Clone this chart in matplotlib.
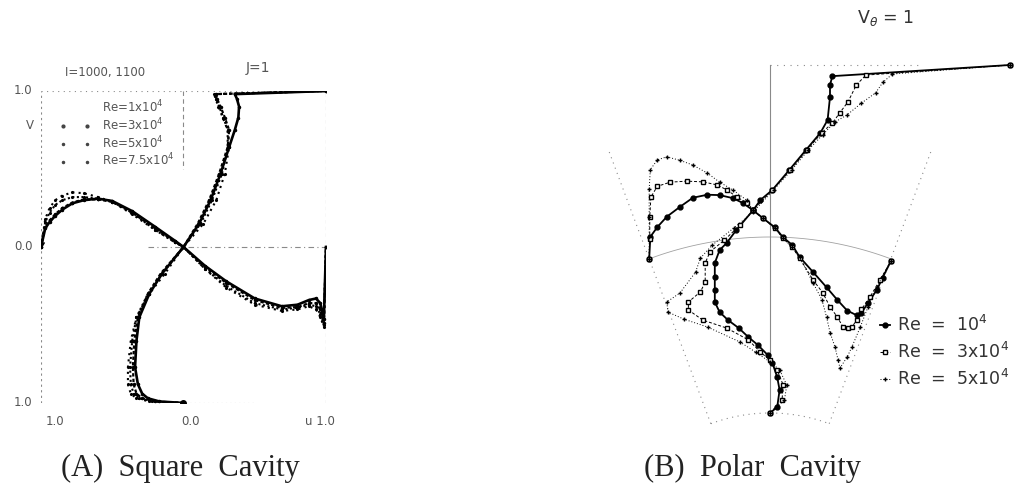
import numpy as np
import matplotlib.pyplot as plt
from matplotlib.lines import Line2D

# ---------------- (A) square cavity : centre-line profiles ----------------
labels_a = ["Re=1x10$^4$", "Re=3x10$^4$", "Re=5x10$^4$", "Re=7.5x10$^4$"]

# u along the vertical centre line (y from bottom wall to lid)
y_line = [-1.0, -0.99, -0.97, -0.94, -0.88, -0.77, -0.6, -0.45, -0.3, -0.17, 0.0,
          0.15, 0.3, 0.47, 0.64, 0.75, 0.83, 0.9, 0.95, 0.98, 1.0]
u_re1 = [0, -0.17, -0.25, -0.29, -0.32, -0.34, -0.33, -0.31, -0.24, -0.15, 0.0,
         0.11, 0.19, 0.26, 0.32, 0.36, 0.385, 0.39, 0.375, 0.36, 1.0]
u_re3 = [0, -0.20, -0.29, -0.33, -0.35, -0.355, -0.345, -0.32, -0.25, -0.16, 0.0,
         0.10, 0.18, 0.25, 0.31, 0.32, 0.29, 0.26, 0.235, 0.23, 1.0]
u_re5 = [0, -0.22, -0.31, -0.35, -0.37, -0.375, -0.36, -0.33, -0.25, -0.15, 0.0,
         0.12, 0.20, 0.27, 0.31, 0.31, 0.28, 0.25, 0.23, 0.22, 1.0]
u_re75 = [0, -0.24, -0.33, -0.37, -0.39, -0.39, -0.37, -0.33, -0.24, -0.13, 0.0,
          0.14, 0.23, 0.29, 0.32, 0.31, 0.275, 0.245, 0.225, 0.215, 1.0]

# v along the horizontal centre line
x_line = [-1.0, -0.97, -0.94, -0.9, -0.85, -0.78, -0.7, -0.6, -0.5, -0.36, -0.2, -0.06, 0.0,
          0.15, 0.3, 0.5, 0.69, 0.8, 0.88, 0.93, 0.96, 0.985, 1.0]
v_re1 = [0, 0.12, 0.16, 0.20, 0.24, 0.28, 0.30, 0.31, 0.295, 0.23, 0.13, 0.04, 0,
         -0.12, -0.22, -0.33, -0.38, -0.37, -0.34, -0.33, -0.36, -0.46, 0]
v_re3 = [0, 0.13, 0.17, 0.21, 0.25, 0.285, 0.305, 0.305, 0.29, 0.22, 0.12, 0.035, 0,
         -0.13, -0.23, -0.34, -0.39, -0.385, -0.36, -0.36, -0.40, -0.49, 0]
v_re5 = [0, 0.16, 0.22, 0.27, 0.30, 0.32, 0.32, 0.31, 0.29, 0.22, 0.11, 0.03, 0,
         -0.14, -0.25, -0.36, -0.40, -0.39, -0.37, -0.38, -0.43, -0.50, 0]
v_re75 = [0, 0.18, 0.25, 0.30, 0.33, 0.35, 0.345, 0.32, 0.29, 0.21, 0.11, 0.03, 0,
          -0.14, -0.26, -0.37, -0.41, -0.40, -0.38, -0.40, -0.45, -0.51, 0]

# ---------------- (B) polar cavity ----------------
labels_b = ["Re  =  10$^4$", "Re  =  3x10$^4$", "Re  =  5x10$^4$"]

# u along the radial centre line, eta = 0 inner wall .. 1 lid
eta_b1 = [0, 0.017, 0.066, 0.103, 0.144, 0.167, 0.195, 0.218, 0.244, 0.267, 0.29, 0.319, 0.353,
          0.391, 0.431, 0.468, 0.489, 0.526, 0.583, 0.612, 0.641, 0.698, 0.756, 0.805, 0.842,
          0.908, 0.943, 0.968, 1.0]
ub_re1 = [0, 0.03, 0.04, 0.03, 0.01, -0.01, -0.05, -0.09, -0.13, -0.175, -0.21, -0.23, -0.23,
          -0.23, -0.23, -0.21, -0.18, -0.14, -0.07, -0.04, 0.01, 0.08, 0.15, 0.21, 0.24,
          0.25, 0.25, 0.26, 1.0]
eta_b3 = [0, 0.037, 0.08, 0.124, 0.152, 0.175, 0.21, 0.244, 0.267, 0.296, 0.319, 0.348, 0.376,
          0.431, 0.463, 0.497, 0.54, 0.583, 0.641, 0.698, 0.756, 0.805, 0.833, 0.862, 0.894,
          0.943, 0.971, 1.0]
ub_re3 = [0, 0.05, 0.055, 0.03, 0, -0.04, -0.09, -0.18, -0.28, -0.34, -0.34, -0.29, -0.27,
          -0.27, -0.25, -0.19, -0.125, -0.07, 0.01, 0.085, 0.155, 0.215, 0.26, 0.29, 0.325,
          0.36, 0.40, 1.0]
eta_b5 = [0, 0.037, 0.08, 0.124, 0.147, 0.175, 0.204, 0.247, 0.27, 0.29, 0.319, 0.345, 0.405,
          0.445, 0.483, 0.532, 0.578, 0.641, 0.698, 0.756, 0.8, 0.836, 0.856, 0.89, 0.92,
          0.95, 0.974, 1.0]
ub_re5 = [0, 0.06, 0.07, 0.04, 0, -0.06, -0.125, -0.26, -0.36, -0.425, -0.43, -0.375, -0.31,
          -0.29, -0.24, -0.15, -0.07, 0.015, 0.09, 0.16, 0.22, 0.27, 0.32, 0.38, 0.44,
          0.47, 0.51, 1.0]

# v along the middle arc, s = -1 left wall .. 1 right wall
s_b1 = [-1.0, -0.99, -0.93, -0.85, -0.74, -0.63, -0.51, -0.41, -0.30, -0.22, -0.14, -0.06, 0.04,
        0.105, 0.18, 0.24, 0.35, 0.46, 0.55, 0.63, 0.71, 0.75, 0.805, 0.88, 0.93, 1.0]
vb_re1 = [0.0, 0.09, 0.12, 0.15, 0.175, 0.20, 0.20, 0.19, 0.17, 0.146, 0.114, 0.08, 0.04,
          0.0, -0.03, -0.078, -0.135, -0.19, -0.235, -0.27, -0.28, -0.265, -0.215, -0.15, -0.09, -0.01]
s_b3 = [-1.0, -0.995, -0.995, -0.985, -0.93, -0.82, -0.68, -0.546, -0.43, -0.349, -0.268, -0.187,
        -0.14, -0.06, 0.04, 0.105, 0.18, 0.24, 0.35, 0.43, 0.489, 0.55, 0.596, 0.637, 0.67, 0.71,
        0.75, 0.82, 0.907, 1.0]
vb_re3 = [0.0, 0.08, 0.175, 0.255, 0.29, 0.29, 0.275, 0.257, 0.234, 0.207, 0.173, 0.145,
          0.114, 0.08, 0.037, -0.003, -0.04, -0.082, -0.168, -0.216, -0.27, -0.306, -0.343,
          -0.342, -0.334, -0.30, -0.25, -0.19, -0.104, -0.01]
s_b5 = [-1.0, -1.0, -1.0, -1.0, -0.99, -0.93, -0.85, -0.74, -0.63, -0.51, -0.41, -0.30, -0.19,
        -0.14, -0.06, 0.04, 0.105, 0.18, 0.24, 0.35, 0.423, 0.46, 0.49, 0.53, 0.555, 0.571, 0.63,
        0.67, 0.74, 0.805, 0.88, 1.0]
vb_re5 = [0.0, 0.09, 0.175, 0.29, 0.37, 0.40, 0.40, 0.37, 0.336, 0.29, 0.244, 0.204, 0.157,
          0.114, 0.08, 0.037, -0.003, -0.04, -0.08, -0.18, -0.246, -0.314, -0.378, -0.433,
          -0.484, -0.516, -0.464, -0.417, -0.325, -0.2325, -0.1375, -0.01]

# polar cavity geometry (units of 100 px), velocity scale
R_IN, R_MID, R_OUT = 1.69, 3.45, 5.17
HALF = np.radians(20.5)
U_SCALE = 2.4

grey = "#8a8a8a"
txt = "#555555"

fig = plt.figure(figsize=(10.31, 4.90), dpi=100)

# ======================= panel A =======================
axA = fig.add_axes([41 / 1031, 1 - 403 / 490, 285 / 1031, 312 / 490])
axA.set_xlim(-1, 1)
axA.set_ylim(-1, 1)
axA.axis("off")

# dotted frame and centre lines
axA.plot([-1, -1], [-1, 1], ls=(0, (2, 3)), color=grey, lw=0.8)
axA.plot([-1, 1], [1, 1], ls=(0, (1, 4)), color=grey, lw=0.8)
axA.plot([1, 1], [-1, 1], ls=(0, (3, 3)), color=grey, lw=0.8)
axA.plot([-0.3, 0.5], [-1, -1], ls=(0, (1, 3)), color=grey, lw=0.8)
axA.plot([0.0, 0.0], [1, 0.5], ls=(0, (4, 3)), color=grey, lw=0.8)
axA.plot([-0.25, 1], [0, 0], ls=(0, (5, 3, 1, 3)), color=grey, lw=0.8)

styles = [dict(ls="-", lw=1.9, marker=".", ms=3),
          dict(ls=(0, (1.5, 1)), lw=1.6, marker=".", ms=3),
          dict(ls=(0, (1, 1.2)), lw=1.5, marker=".", ms=2.5),
          dict(ls=(0, (1, 2)), lw=1.5, marker=".", ms=2.5)]
u_all = [u_re1, u_re3, u_re5, u_re75]
v_all = [v_re1, v_re3, v_re5, v_re75]
for u, v, st in zip(u_all, v_all, styles):
    axA.plot(u, y_line, color="black", **st)
    axA.plot(x_line, v, color="black", **st)

axA.plot([0.0], [-1.0], "o", color="black", ms=4)
axA.plot([-1.0], [0.0], marker=7, color="black", ms=5)

# legend keys as in the original: first row bare, others two dots
handles = [Line2D([], [], ls="none", marker=".", ms=0, color="black")]
for ms in (4, 3, 3):
    handles.append(Line2D([], [], ls="none", marker=".", ms=ms, color="#444444"))
legA = axA.legend(handles, labels_a, loc="upper left", bbox_to_anchor=(0.065, 0.975),
                  frameon=False, fontsize=8.5, labelspacing=0.1, handlelength=2.6,
                  handletextpad=1.0, borderpad=0, borderaxespad=0, numpoints=2)
for t in legA.get_texts():
    t.set_color(txt)

kw = dict(fontsize=8.5, color=txt, clip_on=False)
axA.text(-1.06, 1.0, "1.0", ha="right", va="center", **kw)
axA.text(-1.06, 0.0, "0.0", ha="right", va="center", **kw)
axA.text(-1.06, -1.0, "1.0", ha="right", va="center", **kw)
axA.text(-0.9, -1.12, "1.0", ha="center", va="center", **kw)
axA.text(0.05, -1.12, "0.0", ha="center", va="center", **kw)
axA.text(0.96, -1.12, "u 1.0", ha="center", va="center", **kw)
axA.text(-1.05, 0.78, "V", ha="right", va="center", **kw)
axA.text(-0.55, 1.12, "I=1000, 1100", ha="center", va="center", **kw)
axA.text(0.52, 1.15, "J=1", ha="center", va="center", fontsize=10, color=txt, clip_on=False)

# ======================= panel B =======================
axB = fig.add_axes([580 / 1031, 1 - 440 / 490, 451 / 1031, 440 / 490])
axB.set_xlim(-1.90, 2.61)
axB.set_ylim(-0.27, 4.13)
axB.axis("off")

th = np.linspace(-HALF, HALF, 80)
# sector outline: inner arc, side walls, middle arc
axB.plot(R_IN * np.sin(th), R_IN * np.cos(th) - R_IN, ls=(0, (1, 4)), color=grey, lw=0.8)
for sgn in (-1, 1):
    rr = np.array([R_IN, 4.6])
    axB.plot(sgn * rr * np.sin(HALF), rr * np.cos(HALF) - R_IN, ls=(0, (1, 4)), color=grey, lw=0.8)
axB.plot(R_MID * np.sin(th), R_MID * np.cos(th) - R_IN, ls="-", color=grey, lw=0.6, alpha=0.8)
axB.plot([0, 0], [0, R_OUT - R_IN], color=grey, lw=0.8)
axB.plot([0, 1.5], [R_OUT - R_IN, R_OUT - R_IN], ls=(0, (1, 5)), color=grey, lw=0.8)

eta_all = [eta_b1, eta_b3, eta_b5]
ub_all = [ub_re1, ub_re3, ub_re5]
s_all = [s_b1, s_b3, s_b5]
vb_all = [vb_re1, vb_re3, vb_re5]
bstyles = [dict(ls="-", lw=1.3, marker="o", ms=3.5, mfc="black"),
           dict(ls=(0, (3, 2)), lw=0.7, marker="s", ms=3.5, mfc="white"),
           dict(ls=(0, (1, 2)), lw=0.7, marker="+", ms=3.5, mfc="none")]
bh = []
for eta, u, s, v, st, lab in zip(eta_all, ub_all, s_all, vb_all, bstyles, labels_b):
    eta = np.asarray(eta)
    u = np.asarray(u)
    h, = axB.plot(u * U_SCALE, eta * (R_OUT - R_IN), color="black", mec="black", label=lab, **st)
    ang = HALF * np.asarray(s)
    xs = R_MID * np.sin(ang)
    ys = R_MID * np.cos(ang) - R_IN + np.asarray(v) * U_SCALE
    axB.plot(xs, ys, color="black", mec="black", **st)
    bh.append(h)

legB = axB.legend(handles=bh, loc="upper left", bbox_to_anchor=(0.665, 0.285), frameon=False,
                  fontsize=12.5, labelspacing=0.4, handlelength=0.6, handletextpad=0.4,
                  borderpad=0, borderaxespad=0)
for t in legB.get_texts():
    t.set_color("#333333")

axB.text(1.15, 3.95, r"V$_\theta$ = 1", ha="center", va="center", fontsize=12.5, color="#333333")

# captions
fig.text(180 / 1031, 1 - 468 / 490, "(A)  Square  Cavity", ha="center", va="center",
         fontsize=22, family="Liberation Serif", color="#222222")
fig.text(753 / 1031, 1 - 468 / 490, "(B)  Polar  Cavity", ha="center", va="center",
         fontsize=22, family="Liberation Serif", color="#222222")

fig.savefig("out.png", dpi=100)
